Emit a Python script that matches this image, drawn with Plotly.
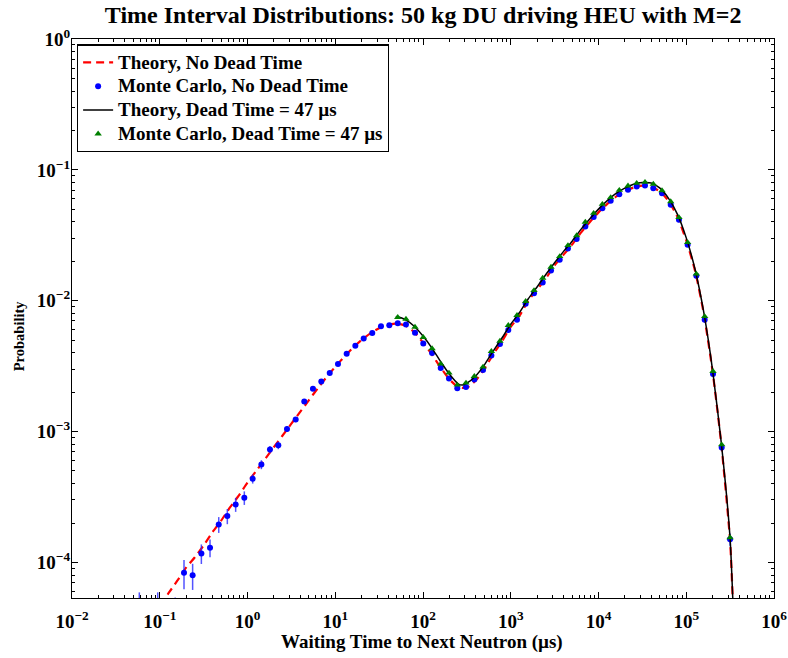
import plotly.graph_objects as go

# ---- Theory, no dead time (red dashed) ----
th_x = [0.1, 0.1259, 0.1585, 0.1995, 0.2512, 0.3162, 0.3981, 0.5012, 0.6310, 0.7943,
        1.0, 1.259, 1.585, 1.995, 2.512, 3.162, 3.981, 5.012, 6.310, 7.943,
        10.0, 12.59, 15.85, 19.95, 25.12, 31.62, 39.81, 50.12, 63.10, 79.43,
        100.0, 125.9, 158.5, 199.5, 251.2, 316.2, 398.1, 501.2, 631.0, 794.3,
        1000, 1259, 1585, 1995, 2512, 3162, 3981, 5012, 6310, 7943,
        10000, 12590, 15850, 19950, 25120, 31620, 39810, 50120, 63100, 79430,
        100000, 125900, 158500, 199500, 251200, 316200, 338800, 363100]
th_y = [4.677e-5, 5.821e-5, 7.244e-5, 9.120e-5, 1.096e-4, 1.349e-4, 1.698e-4, 2.089e-4, 2.630e-4, 3.236e-4,
        4.074e-4, 5.012e-4, 6.166e-4, 7.586e-4, 9.333e-4, 1.148e-3, 1.413e-3, 1.738e-3, 2.138e-3, 2.600e-3,
        3.126e-3, 3.715e-3, 4.365e-3, 5.012e-3, 5.623e-3, 6.166e-3, 6.531e-3, 6.683e-3, 6.457e-3, 5.754e-3,
        4.786e-3, 3.890e-3, 3.090e-3, 2.512e-3, 2.188e-3, 2.163e-3, 2.455e-3, 3.020e-3, 3.890e-3, 4.898e-3,
        6.310e-3, 7.674e-3, 1.000e-2, 1.216e-2, 1.479e-2, 1.862e-2, 2.239e-2, 2.692e-2, 3.311e-2, 3.981e-2,
        4.732e-2, 5.495e-2, 6.237e-2, 6.839e-2, 7.328e-2, 7.586e-2, 7.413e-2, 6.839e-2, 5.754e-2, 4.365e-2,
        2.884e-2, 1.698e-2, 7.943e-3, 2.884e-3, 7.943e-4, 1.445e-4, 5.248e-5, 1.778e-5]

# ---- Monte Carlo, no dead time (blue dots with error bars) ----
mc_x = [0.0585, 0.0948, 0.150,
        0.189, 0.237, 0.298, 0.374, 0.470, 0.589, 0.733, 0.920, 1.146, 1.439,
        1.803, 2.244, 2.818, 3.540, 4.436, 5.572, 6.934, 8.650, 10.74, 13.49,
        16.94, 21.09, 26.42, 33.19, 41.30, 51.52, 63.97, 81.10, 100.7, 126.8,
        159.2, 197.7, 246.0, 309.0, 384.6, 483.1, 601.2, 753.4, 937.6, 1178,
        1479, 1841, 2312, 2877, 3614, 4487, 5636, 7079, 8810, 11070,
        13770, 17260, 21680, 27230, 33880, 42170, 52970, 66530, 82600, 103700,
        130300, 162200, 201800, 253500, 315500]
mc_y = [3.0e-5, 3.0e-5, 2.8e-5,
        8.34e-5, 7.96e-5, 1.172e-4, 1.294e-4, 1.950e-4, 2.259e-4, 2.773e-4, 3.119e-4, 4.355e-4, 5.598e-4,
        7.295e-4, 7.852e-4, 1.047e-3, 1.236e-3, 1.694e-3, 2.128e-3, 2.410e-3, 2.805e-3, 3.289e-3, 3.936e-3,
        4.529e-3, 5.152e-3, 5.662e-3, 6.368e-3, 6.486e-3, 6.714e-3, 6.592e-3, 5.702e-3, 4.699e-3, 3.981e-3,
        3.062e-3, 2.541e-3, 2.143e-3, 2.193e-3, 2.495e-3, 2.958e-3, 3.819e-3, 4.667e-3, 5.970e-3, 7.161e-3,
        9.484e-3, 1.138e-2, 1.380e-2, 1.702e-2, 2.056e-2, 2.506e-2, 2.958e-2, 3.690e-2, 4.355e-2, 5.093e-2,
        5.794e-2, 6.516e-2, 7.031e-2, 7.464e-2, 7.586e-2, 7.244e-2, 6.637e-2, 5.408e-2, 4.150e-2, 2.673e-2,
        1.552e-2, 7.161e-3, 2.754e-3, 7.551e-4, 1.500e-4]
mc_err = [2.9e-5, 2.9e-5, 2.6e-5,
          2.1e-5, 1.8e-5, 2.0e-5, 2.0e-5, 2.7e-5, 3.0e-5, 3.4e-5, 3.7e-5, 3.5e-5, 4.4e-5,
          4.7e-5, 5.2e-5, 5.5e-5, 5.5e-5, 6.0e-5, 6.5e-5, 7.0e-5, 7.5e-5, 8.0e-5, 8.5e-5,
          9.0e-5, 9.5e-5, 1.0e-4, 1.0e-4, 1.0e-4, 1.0e-4, 1.0e-4, 1.0e-4, 9.0e-5, 8.5e-5,
          7.5e-5, 7.0e-5, 6.5e-5, 6.5e-5, 7.0e-5, 7.5e-5, 8.5e-5, 9.5e-5, 1.0e-4, 1.1e-4,
          1.3e-4, 1.4e-4, 1.5e-4, 1.7e-4, 1.8e-4, 2.0e-4, 2.2e-4, 2.4e-4, 2.6e-4, 2.8e-4,
          3.0e-4, 3.2e-4, 3.3e-4, 3.4e-4, 3.4e-4, 3.4e-4, 3.2e-4, 2.9e-4, 2.6e-4, 2.1e-4,
          1.6e-4, 1.1e-4, 7.0e-5, 3.5e-5, 1.6e-5]

# ---- Theory, dead time = 47 us (black solid) ----
dt_x = [48.98, 56.23, 63.10, 79.43, 100.0, 125.9, 158.5, 199.5, 251.2, 281.8, 316.2, 398.1, 501.2, 631.0, 794.3,
        1000, 1259, 1585, 1995, 2512, 3162, 3981, 5012, 6310, 7943,
        10000, 12590, 15850, 19950, 25120, 31620, 39810, 50120, 63100, 79430,
        100000, 125900, 158500, 199500, 251200, 316200, 338800, 363100]
dt_y = [7.586e-3, 7.413e-3, 7.161e-3, 6.383e-3, 5.370e-3, 4.365e-3, 3.428e-3, 2.754e-3, 2.317e-3, 2.265e-3,
        2.344e-3, 2.661e-3, 3.236e-3, 4.121e-3, 5.188e-3,
        6.607e-3, 8.128e-3, 1.035e-2, 1.274e-2, 1.585e-2, 1.950e-2, 2.371e-2, 2.851e-2, 3.508e-2, 4.217e-2,
        5.012e-2, 5.821e-2, 6.607e-2, 7.244e-2, 7.762e-2, 7.998e-2, 7.943e-2, 7.244e-2, 6.026e-2, 4.571e-2,
        3.020e-2, 1.738e-2, 8.128e-3, 2.951e-3, 8.128e-4, 1.514e-4, 5.370e-5, 1.778e-5]

# ---- Monte Carlo, dead time = 47 us (green triangles) ----
mcdt_x = [51.52, 63.97, 81.10, 100.7, 126.8,
          159.2, 197.7, 246.0, 309.0, 384.6, 483.1, 601.2, 753.4, 937.6, 1178,
          1479, 1841, 2312, 2877, 3614, 4487, 5636, 7079, 8810, 11070,
          13770, 17260, 21680, 27230, 33880, 42170, 52970, 66530, 82600, 103700,
          130300, 162200, 201800, 253500, 315500]
mcdt_y = [7.464e-3, 7.244e-3, 6.295e-3, 5.248e-3, 4.305e-3,
          3.289e-3, 2.805e-3, 2.270e-3, 2.355e-3, 2.642e-3, 3.119e-3, 4.102e-3, 4.920e-3, 6.486e-3, 7.727e-3,
          9.886e-3, 1.199e-2, 1.489e-2, 1.807e-2, 2.178e-2, 2.642e-2, 3.148e-2, 3.990e-2, 4.667e-2, 5.470e-2,
          6.152e-2, 6.998e-2, 7.551e-2, 7.907e-2, 8.054e-2, 7.780e-2, 6.950e-2, 5.728e-2, 4.325e-2, 2.786e-2,
          1.600e-2, 7.586e-3, 2.884e-3, 7.943e-4, 1.549e-4]

# ---- series names ----
names = ["Theory, No Dead Time", "Monte Carlo, No Dead Time",
         "Theory, Dead Time = 47 µs", "Monte Carlo, Dead Time = 47 µs"]

# ---- axis ticks ----
x_major = [1e-2, 1e-1, 1e0, 1e1, 1e2, 1e3, 1e4, 1e5, 1e6]
x_major_text = ["10<sup>−2</sup>", "10<sup>−1</sup>", "10<sup>0</sup>", "10<sup>1</sup>", "10<sup>2</sup>",
                "10<sup>3</sup>", "10<sup>4</sup>", "10<sup>5</sup>", "10<sup>6</sup>"]
y_major = [1e-4, 1e-3, 1e-2, 1e-1, 1e0]
y_major_text = ["10<sup>−4</sup>", "10<sup>−3</sup>", "10<sup>−2</sup>", "10<sup>−1</sup>", "10<sup>0</sup>"]
minor_mult = [2, 3, 4, 5, 6, 7, 8, 9]
x_minor = [m * d for d in [1e-2, 1e-1, 1e0, 1e1, 1e2, 1e3, 1e4, 1e5] for m in minor_mult]
y_minor = [m * d for d in [1e-5, 1e-4, 1e-3, 1e-2, 1e-1] for m in minor_mult]

FONT = "Liberation Serif"


def leg(name):
    return '<span style="font-size:19px">' + name + "</span>"


fig = go.Figure()
fig.add_trace(go.Scatter(x=th_x, y=th_y, mode="lines", name=leg(names[0]),
                         line=dict(color="#ff0000", width=2.2, dash="8px,5px", shape="spline", smoothing=0.6)))
fig.add_trace(go.Scatter(x=mc_x, y=mc_y, mode="markers", name=leg(names[1]),
                         marker=dict(color="#0000ff", size=6, symbol="circle"),
                         error_y=dict(type="data", array=mc_err, visible=True, color="rgba(40,40,255,0.8)",
                                      thickness=1.5, width=0)))
fig.add_trace(go.Scatter(x=dt_x, y=dt_y, mode="lines", name=leg(names[2]),
                         line=dict(color="#000000", width=1.5, shape="spline", smoothing=0.6)))
fig.add_trace(go.Scatter(x=mcdt_x, y=mcdt_y, mode="markers", name=leg(names[3]),
                         marker=dict(color="#008000", size=6.5, symbol="triangle-up")))

axis_common = dict(type="log", showgrid=False, zeroline=False, showline=True, linecolor="black",
                   linewidth=1.2, mirror="allticks", ticks="inside", ticklen=6, tickwidth=1, tickcolor="black",
                   tickfont=dict(family=FONT, size=19, color="black", weight="bold"))

fig.update_xaxes(**axis_common, range=[-2, 6], tickvals=x_major, ticktext=x_major_text,
                 ticklabelstandoff=6,
                 minor=dict(tickvals=x_minor, ticks="inside", ticklen=3, tickcolor="black", showgrid=False))
fig.update_yaxes(**axis_common, range=[-4.272, 0], tickvals=y_major, ticktext=y_major_text,
                 ticklabelstandoff=-3,
                 minor=dict(tickvals=y_minor, ticks="inside", ticklen=3, tickcolor="black", showgrid=False))

fig.update_layout(
    width=788, height=658,
    margin=dict(l=72, r=14, t=39, b=60, autoexpand=False),
    paper_bgcolor="white", plot_bgcolor="white",
    font=dict(family=FONT, color="black", weight="bold"),
    title=dict(text="Time Interval Distributions: 50 kg DU driving HEU with M=2",
               x=0.537, xanchor="center", y=0.978, yanchor="middle",
               font=dict(family=FONT, size=24, color="black", weight="bold")),
    legend=dict(x=0.007, y=0.9905, xanchor="left", yanchor="top", bgcolor="white",
                bordercolor="black", borderwidth=1.2, tracegroupgap=0,
                font=dict(family=FONT, size=16, color="black", weight="bold")),
    showlegend=True,
    annotations=[
        dict(text="Probability", textangle=-90, xref="paper", yref="paper",
             x=-0.0755, y=0.47, xanchor="center", yanchor="middle", showarrow=False,
             font=dict(family=FONT, size=14.5, color="black", weight="bold")),
        dict(text="Waiting Time to Next Neutron (µs)", xref="paper", yref="paper",
             x=0.499, y=-0.0787, xanchor="center", yanchor="middle", showarrow=False,
             font=dict(family=FONT, size=19, color="black", weight="bold")),
    ],
)

fig.write_html("out.html", config={"displayModeBar": False},
               post_script="document.body.style.margin='0';document.body.style.overflow='hidden';")
